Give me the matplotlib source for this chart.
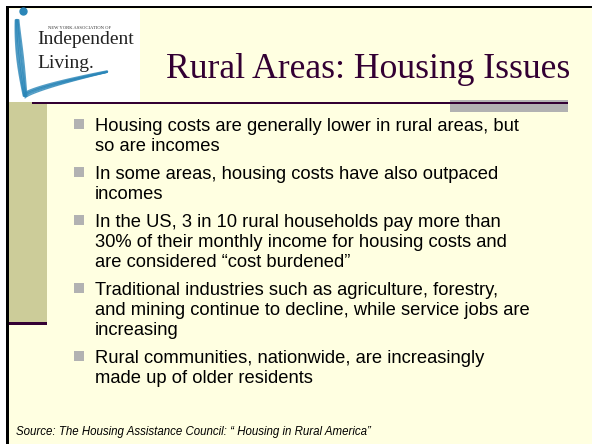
import matplotlib
matplotlib.use("Agg")
from matplotlib import pyplot as plt
from matplotlib.patches import Rectangle
import numpy as np

# Slide content
title = "Rural Areas: Housing Issues"
bullets = [
    ["Housing costs are generally lower in rural areas, but", "so are incomes"],
    ["In some areas, housing costs have also outpaced", "incomes"],
    ["In the US, 3 in 10 rural households pay more than",
     "30% of their monthly income for housing costs and",
     "are considered \u201ccost burdened\u201d"],
    ["Traditional industries such as agriculture, forestry,",
     "and mining continue to decline, while service jobs are",
     "increasing"],
    ["Rural communities, nationwide, are increasingly", "made up of older residents"],
]
source = "Source: The Housing Assistance Council: \u201c Housing in Rural America\u201d"

# Colours
bg = "#FFFFE1"
olive = "#CCCC99"
purple = "#330033"
grey = "#B2B2B2"
logo_blue = "#2A86B8"

W, H = 592, 444
fig = plt.figure(figsize=(W / 100, H / 100), dpi=100)
fig.patch.set_facecolor("white")
ax = fig.add_axes([0, 0, 1, 1])
ax.set_xlim(0, W)
ax.set_ylim(H, 0)
ax.axis("off")

# Slide background and frame
ax.add_patch(Rectangle((8, 8), W - 8, H - 8, facecolor=bg, edgecolor="none"))
ax.add_patch(Rectangle((9, 102), 38, 221, facecolor=olive, edgecolor="none"))
ax.add_patch(Rectangle((9, 322), 38, 3, facecolor=purple, edgecolor="none"))
ax.add_patch(Rectangle((9, 9), 131, 93, facecolor="white", edgecolor="none"))
ax.add_patch(Rectangle((6, 6), 2.5, H, facecolor="black", edgecolor="none"))
ax.add_patch(Rectangle((6, 6), W, 2.5, facecolor="black", edgecolor="none"))

# Title rule and grey accent bar
ax.add_patch(Rectangle((450, 100), 118, 12, facecolor=grey, edgecolor="none"))
ax.add_patch(Rectangle((32, 102), 536, 2.2, facecolor=purple, edgecolor="none"))

# Logo: brush stroke (a few offset strokes to look like a brush)
t = np.linspace(0, 1, 80)
stem_x = 17 + 8 * t ** 1.4
stem_y = 20 + 76 * t
for k, off in enumerate([-3, -1.5, 0, 1.5, 3]):
    ax.plot(stem_x + off * (0.5 + 0.5 * np.sin(np.pi * t)), stem_y, color=logo_blue,
            lw=1.2 + 0.3 * (k % 3), alpha=0.8, solid_capstyle="round")
tail_x = 25 + 82 * t
tail_y = 96 - 24 * t ** 0.75
for k, off in enumerate([-2.5, -1, 0.5, 2]):
    ax.plot(tail_x, tail_y + off * (1 - 0.8 * t), color=logo_blue,
            lw=1.8 - 0.3 * k, alpha=0.8, solid_capstyle="round")
ax.plot([23], [11], "o", color=logo_blue, ms=5)

ax.text(48, 29, "NEW YORK ASSOCIATION OF", fontsize=3.3, family="Liberation Serif",
        color="#333333", va="baseline")
ax.text(37, 44, "Independent", fontsize=14, family="Liberation Serif",
        color="#222222", va="baseline")
ax.text(37, 68, "Living.", fontsize=14, family="Liberation Serif",
        color="#222222", va="baseline")

# Title
ax.text(368, 78, title, fontsize=25.7, family="Liberation Serif", color=purple,
        ha="center", va="baseline")

# Bullets
line_step = 20
bullet_gap = 8
y = 131
for lines in bullets:
    ax.add_patch(Rectangle((74, y - 12), 9.5, 9.5, facecolor=grey, edgecolor="none"))
    for ln in lines:
        ax.text(95, y, ln, fontsize=13.2, family="Liberation Sans", color="black",
                va="baseline")
        y += line_step
    y += bullet_gap

# Source note
ax.text(16, 435, source, fontsize=8.3, family="Liberation Sans", style="italic",
        color="black", va="baseline")

fig.savefig("out.png", dpi=100)
